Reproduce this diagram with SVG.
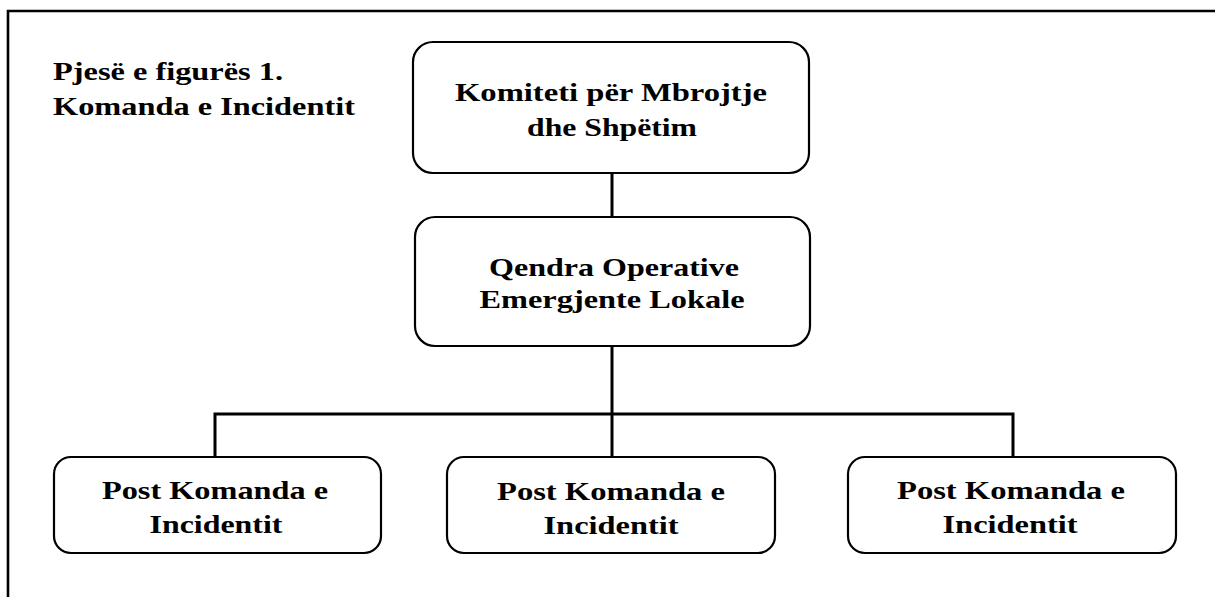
<svg xmlns="http://www.w3.org/2000/svg" width="1215" height="597" viewBox="0 0 1215 597">
<style>
.box{fill:#fff;stroke:#000;stroke-width:2.2}
.t{font-family:"Liberation Serif","Times New Roman",serif;font-weight:bold;font-size:26px;fill:#000;text-anchor:middle}
.tl{font-family:"Liberation Serif","Times New Roman",serif;font-weight:bold;font-size:26px;fill:#000}
.c{fill:none;stroke:#000;stroke-width:3}
</style>
<rect width="1215" height="597" fill="#fff"/>
<path d="M8,600 V11 H1220" fill="none" stroke="#000" stroke-width="2.6"/>
<g id="title">
<text class="tl" x="53" y="80" textLength="230" lengthAdjust="spacingAndGlyphs">Pjesë e figurës 1.</text>
<text class="tl" x="53" y="115" textLength="302" lengthAdjust="spacingAndGlyphs">Komanda e Incidentit</text>
</g>
<g id="connectors">
<line class="c" x1="612" y1="173" x2="612" y2="217"/>
<line class="c" x1="612" y1="346" x2="612" y2="414"/>
<polyline class="c" points="215,457 215,414 1013,414 1013,457"/>
<line class="c" x1="612" y1="414" x2="612" y2="457"/>
</g>
<g id="n-komiteti">
<rect class="box" x="413" y="42" width="396" height="131" rx="20"/>
<text class="t" x="611" y="101" textLength="312" lengthAdjust="spacingAndGlyphs">Komiteti për Mbrojtje</text>
<text class="t" x="612" y="136" textLength="170" lengthAdjust="spacingAndGlyphs">dhe Shpëtim</text>
</g>
<g id="n-qendra">
<rect class="box" x="415" y="217" width="395" height="129" rx="20"/>
<text class="t" x="614" y="276" textLength="250" lengthAdjust="spacingAndGlyphs">Qendra Operative</text>
<text class="t" x="612" y="308" textLength="265" lengthAdjust="spacingAndGlyphs">Emergjente Lokale</text>
</g>
<g id="n-post1">
<rect class="box" x="54" y="457" width="327" height="96" rx="17"/>
<text class="t" x="215" y="499" textLength="226" lengthAdjust="spacingAndGlyphs">Post Komanda e</text>
<text class="t" x="216" y="533" textLength="133" lengthAdjust="spacingAndGlyphs">Incidentit</text>
</g>
<g id="n-post2">
<rect class="box" x="447" y="457" width="328" height="96" rx="17"/>
<text class="t" x="611" y="500" textLength="228" lengthAdjust="spacingAndGlyphs">Post Komanda e</text>
<text class="t" x="611" y="534" textLength="135" lengthAdjust="spacingAndGlyphs">Incidentit</text>
</g>
<g id="n-post3">
<rect class="box" x="848" y="457" width="328" height="96" rx="17"/>
<text class="t" x="1011" y="499" textLength="228" lengthAdjust="spacingAndGlyphs">Post Komanda e</text>
<text class="t" x="1010" y="533" textLength="135" lengthAdjust="spacingAndGlyphs">Incidentit</text>
</g>
</svg>
